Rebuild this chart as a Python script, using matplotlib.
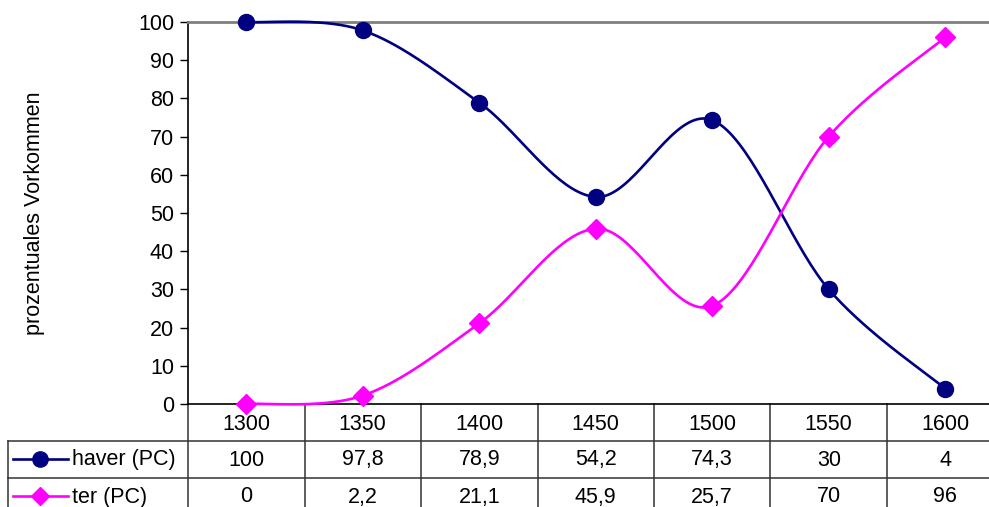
import numpy as np
import matplotlib
matplotlib.use("Agg")
import matplotlib.pyplot as plt
from matplotlib.transforms import blended_transform_factory

plt.rcParams['font.family'] = ['Liberation Sans', 'DejaVu Sans']

years = ['1300', '1350', '1400', '1450', '1500', '1550', '1600']
haver = [100, 97.8, 78.9, 54.2, 74.3, 30, 4]
ter = [0, 2.2, 21.1, 45.9, 25.7, 70, 96]
series_names = ['haver (PC)', 'ter (PC)']
colors = ['#000080', '#FF00FF']
markers = ['o', 'D']
ylabel = 'prozentuales Vorkommen'

FS = 15.5
LW = 1.9
W, H = 989, 507
fig = plt.figure(figsize=(W / 100, H / 100), dpi=100)

# pixel layout
L, R, T, B = 188, 1003.5, 22, 404
ax = fig.add_axes([L / W, 1 - B / H, (R - L) / W, (B - T) / H])
ov = fig.add_axes([0, 0, 1, 1], zorder=-1)
ov.set_xlim(0, W)
ov.set_ylim(H, 0)
ov.axis('off')


def excel_smooth(xs, ys, n=40):
    pts = np.column_stack([xs, ys]).astype(float)
    P = np.vstack([pts[0], pts, pts[-1]])
    out = []
    for i in range(1, len(P) - 2):
        p0, p1, p2, p3 = P[i - 1], P[i], P[i + 1], P[i + 2]
        c1 = p1 + (p2 - p0) / 6
        c2 = p2 - (p3 - p1) / 6
        t = np.linspace(0, 1, n)[:, None]
        seg = ((1 - t) ** 3) * p1 + 3 * ((1 - t) ** 2) * t * c1 + 3 * (1 - t) * t ** 2 * c2 + t ** 3 * p2
        out.append(seg if i == 1 else seg[1:])
    return np.vstack(out)


x = np.arange(len(years))
for vals, c, m in zip([haver, ter], colors, markers):
    curve = excel_smooth(x, vals)
    ax.plot(curve[:, 0], curve[:, 1], color=c, lw=LW, clip_on=False, zorder=3)
    ms = 11.5 if m == 'o' else 10
    ax.plot(x, vals, linestyle='none', marker=m, color=c, ms=ms, clip_on=False, zorder=4)

ax.set_xlim(-0.5, len(years) - 0.5)
ax.set_ylim(0, 100)
ax.set_yticks(np.arange(0, 101, 10))
ax.tick_params(axis='y', direction='out', length=6, width=1, labelsize=FS, pad=4, colors='black')
ax.set_xticks([])
for s in ['left', 'bottom']:
    ax.spines[s].set_color('black')
    ax.spines[s].set_linewidth(1.2)
ax.spines['top'].set_color('#808080')
ax.spines['top'].set_linewidth(2)
ax.spines['right'].set_color('#808080')
ax.spines['right'].set_linewidth(2)
ax.patch.set_alpha(0)

fig.text(35 / W, 1 - 213 / H, ylabel, rotation=90, ha='center', va='center', fontsize=FS)

# data table
bt = blended_transform_factory(ax.transData, ov.transData)
lc = '#333333'
for i in range(len(years) + 1):
    ov.plot([i - 0.5, i - 0.5], [B, H + 5], transform=bt, color=lc, lw=1.1, clip_on=False)
ov.plot([8, W + 5], [441, 441], color=lc, lw=1.1, clip_on=False)
ov.plot([8, W + 5], [478, 478], color=lc, lw=1.1, clip_on=False)
ov.plot([8, 8], [441, H + 5], color=lc, lw=1.1, clip_on=False)


def fmt(v):
    if float(v).is_integer():
        return str(int(v))
    return str(v).replace('.', ',')


for i, y in enumerate(years):
    ov.text(i, 424, y, transform=bt, ha='center', va='center', fontsize=FS)
for row_y, vals, name, c, m in zip([460, 497], [haver, ter], series_names, colors, markers):
    for i, v in enumerate(vals):
        ov.text(i, row_y, fmt(v), transform=bt, ha='center', va='center', fontsize=FS)
    ov.plot([13, 68], [row_y - 1, row_y - 1], color=c, lw=LW)
    ov.plot([40], [row_y - 1], marker=m, color=c, ms=(11 if m == 'o' else 9.5), linestyle='none')
    ov.text(72, row_y, name, ha='left', va='center', fontsize=FS)

fig.savefig('out.png', dpi=100)
